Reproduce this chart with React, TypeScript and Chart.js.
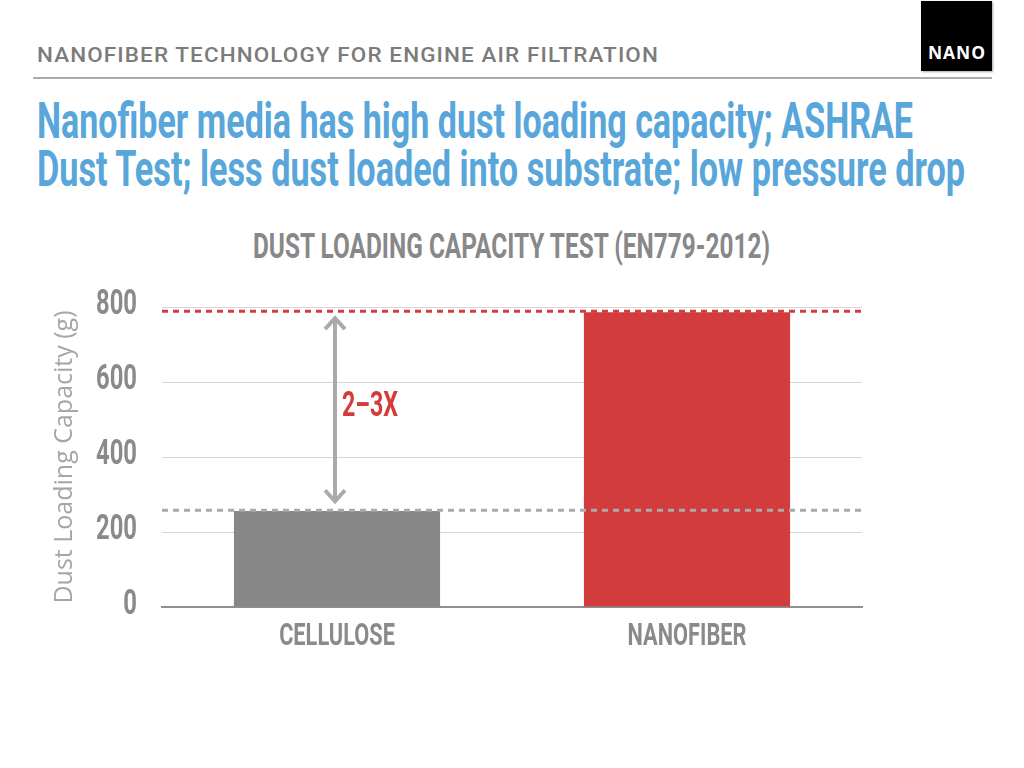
import React, { useEffect, useLayoutEffect, useRef } from "react";
import { Chart, registerables } from "chart.js";

Chart.register(...registerables);

// ---------- data ----------
const categories = ["CELLULOSE", "NANOFIBER"];
const capacityValues = [256, 786];
const barColors = ["#878787", "#d23c3c"];
const yTickValues = [0, 200, 400, 600, 800];
const referenceLevels = [258, 789];
const referenceColors = ["#aaaaaa", "#d23c3c"];
const ratioLabel = "2–3X";
const slideHeader = "NANOFIBER TECHNOLOGY FOR ENGINE AIR FILTRATION";
const slideTitleLines = [
  "Nanofiber media has high dust loading capacity; ASHRAE",
  "Dust Test; less dust loaded into substrate; low pressure drop",
];
const chartTitle = "DUST LOADING CAPACITY TEST (EN779-2012)";
const yAxisTitle = "Dust Loading Capacity (g)";
const logoText = "NANO";

// ---------- styles ----------
const COND_FONT = 'Roboto, "Open Sans", sans-serif';
const CONDENSE = 0.68;

type FitProps = {
  text: string;
  left: number;
  top: number;
  width: number;
  style: React.CSSProperties;
};

function FitText({ text, left, top, width, style }: FitProps) {
  const ref = useRef<HTMLDivElement>(null);
  useLayoutEffect(() => {
    const el = ref.current;
    if (!el) return;
    el.style.transform = "none";
    const w = el.getBoundingClientRect().width;
    if (w > 0) el.style.transform = `scaleX(${width / w})`;
  }, [text, width]);
  return (
    <div
      ref={ref}
      style={{
        position: "absolute",
        left,
        top,
        whiteSpace: "nowrap",
        display: "inline-block",
        transformOrigin: "0 0",
        ...style,
      }}
    >
      {text}
    </div>
  );
}

// tick labels drawn in a condensed style at the library's tick positions
const condensedTickLabels = {
  id: "condensedTickLabels",
  afterDraw(chart: any) {
    const { ctx, scales } = chart;
    const x = scales.x;
    const y = scales.y;
    ctx.save();
    ctx.fillStyle = "#8a8a8a";
    ctx.textBaseline = "alphabetic";
    ctx.font = "bold 35px " + COND_FONT;
    ctx.textAlign = "right";
    y.ticks.forEach((t: any, i: number) => {
      const py = y.getPixelForTick(i);
      const label = String(t.label ?? t.value);
      const w = ctx.measureText(label).width;
      ctx.fillText(label, y.right - 25, py + 6.5, w * CONDENSE);
    });
    ctx.font = "bold 32px " + COND_FONT;
    ctx.textAlign = "center";
    x.ticks.forEach((t: any, i: number) => {
      const px = x.getPixelForTick(i);
      const label = String(x.getLabelForValue(t.value));
      const w = ctx.measureText(label).width;
      ctx.fillText(label, px, x.top + 38, w * CONDENSE);
    });
    ctx.restore();
  },
};

const annotationPlugin = {
  id: "dustAnnotations",
  afterDatasetsDraw(chart: any) {
    const { ctx, chartArea, scales } = chart;
    const x = scales.x;
    const y = scales.y;
    ctx.save();
    referenceLevels.forEach((v, i) => {
      const py = y.getPixelForValue(v);
      ctx.beginPath();
      ctx.setLineDash([6, 5]);
      ctx.lineWidth = 3;
      ctx.strokeStyle = referenceColors[i];
      ctx.moveTo(chartArea.left, py);
      ctx.lineTo(chartArea.right, py);
      ctx.stroke();
    });
    ctx.setLineDash([]);
    const ax = x.getPixelForValue(0) - 2;
    const top = y.getPixelForValue(referenceLevels[1]) + 6;
    const bot = y.getPixelForValue(referenceLevels[0]) - 8;
    ctx.strokeStyle = "#aaaaaa";
    ctx.lineWidth = 4;
    ctx.lineCap = "butt";
    ctx.lineJoin = "miter";
    ctx.beginPath();
    ctx.moveTo(ax, top + 1);
    ctx.lineTo(ax, bot - 1);
    ctx.stroke();
    ctx.beginPath();
    ctx.moveTo(ax - 10, top + 12);
    ctx.lineTo(ax, top + 1);
    ctx.lineTo(ax + 10, top + 12);
    ctx.stroke();
    ctx.beginPath();
    ctx.moveTo(ax - 10, bot - 12);
    ctx.lineTo(ax, bot - 1);
    ctx.lineTo(ax + 10, bot - 12);
    ctx.stroke();
    const midY = y.getPixelForValue((referenceLevels[0] + referenceLevels[1]) / 2);
    ctx.fillStyle = "#d23c3c";
    ctx.font = "bold 35px " + COND_FONT;
    ctx.textBaseline = "alphabetic";
    ctx.textAlign = "left";
    ctx.fillText(ratioLabel, ax + 7, midY + 5, 56);
    ctx.restore();
  },
};

function DustChart() {
  const canvasRef = useRef<HTMLCanvasElement>(null);
  useEffect(() => {
    const canvas = canvasRef.current;
    if (!canvas) return;
    const chart = new Chart(canvas, {
      type: "bar",
      data: {
        labels: categories,
        datasets: [
          {
            label: "Dust loading capacity",
            data: capacityValues,
            backgroundColor: barColors,
            borderWidth: 0,
            barPercentage: 0.589,
            categoryPercentage: 1,
          },
        ],
      },
      options: {
        responsive: false,
        animation: false,
        layout: { padding: { top: 37, right: 162, bottom: 0, left: 0 } },
        plugins: {
          legend: { display: false },
          tooltip: { enabled: false },
          title: { display: false },
        },
        scales: {
          x: {
            grid: { display: false, drawTicks: false },
            border: { display: true, color: "#8f8f8f", width: 2 },
            ticks: { display: false },
            afterFit: (s: any) => {
              s.height = 93;
            },
          },
          y: {
            min: 0,
            max: 800,
            afterBuildTicks: (s: any) => {
              s.ticks = yTickValues.map((v) => ({ value: v }));
            },
            grid: { color: "#d6d6d6", lineWidth: 1, drawTicks: false },
            border: { display: false },
            ticks: { display: false },
            title: {
              display: true,
              text: yAxisTitle,
              color: "#a6a6a6",
              padding: { top: 50, bottom: 0 },
              font: { family: '"Open Sans", sans-serif', size: 25, weight: "normal" },
            },
            afterFit: (s: any) => {
              s.width = 162;
            },
          },
        },
      },
      plugins: [annotationPlugin, condensedTickLabels],
    });
    return () => chart.destroy();
  }, []);
  return (
    <canvas
      ref={canvasRef}
      width={1024}
      height={430}
      style={{ position: "absolute", left: 0, top: 270, width: 1024, height: 430 }}
    />
  );
}

export default function App() {
  return (
    <div
      style={{
        position: "absolute",
        left: 0,
        top: 0,
        width: 1024,
        height: 768,
        overflow: "hidden",
        background: "#ffffff",
      }}
    >
      <FitText
        text={slideHeader}
        left={37}
        top={45}
        width={622}
        style={{
          fontFamily: 'Roboto, "Open Sans", sans-serif',
          fontWeight: 500,
          fontSize: 20,
          lineHeight: "20px",
          letterSpacing: 1,
          color: "#7b7b7b",
        }}
      />
      <div
        style={{
          position: "absolute",
          left: 33,
          top: 77,
          width: 959,
          height: 2,
          background: "#aaaaaa",
        }}
      />
      <div
        style={{
          position: "absolute",
          left: 921,
          top: 1,
          width: 71,
          height: 70,
          background: "#000000",
          boxShadow: "1px 1px 2px rgba(0,0,0,0.35)",
        }}
      />
      <FitText
        text={logoText}
        left={928}
        top={43}
        width={58}
        style={{
          fontFamily: '"Open Sans", sans-serif',
          fontWeight: 700,
          fontSize: 18,
          lineHeight: "18px",
          letterSpacing: 1,
          color: "#ffffff",
        }}
      />
      {slideTitleLines.map((line, i) => (
        <FitText
          key={i}
          text={line}
          left={37}
          top={96 + i * 48}
          width={i === 0 ? 876 : 928}
          style={{
            fontFamily: COND_FONT,
            fontWeight: 700,
            fontSize: 50,
            lineHeight: "50px",
            color: "#58a6da",
          }}
        />
      ))}
      <FitText
        text={chartTitle}
        left={253}
        top={229}
        width={517}
        style={{
          fontFamily: COND_FONT,
          fontWeight: 700,
          fontSize: 35,
          lineHeight: "35px",
          color: "#888888",
        }}
      />
      <DustChart />
    </div>
  );
}
